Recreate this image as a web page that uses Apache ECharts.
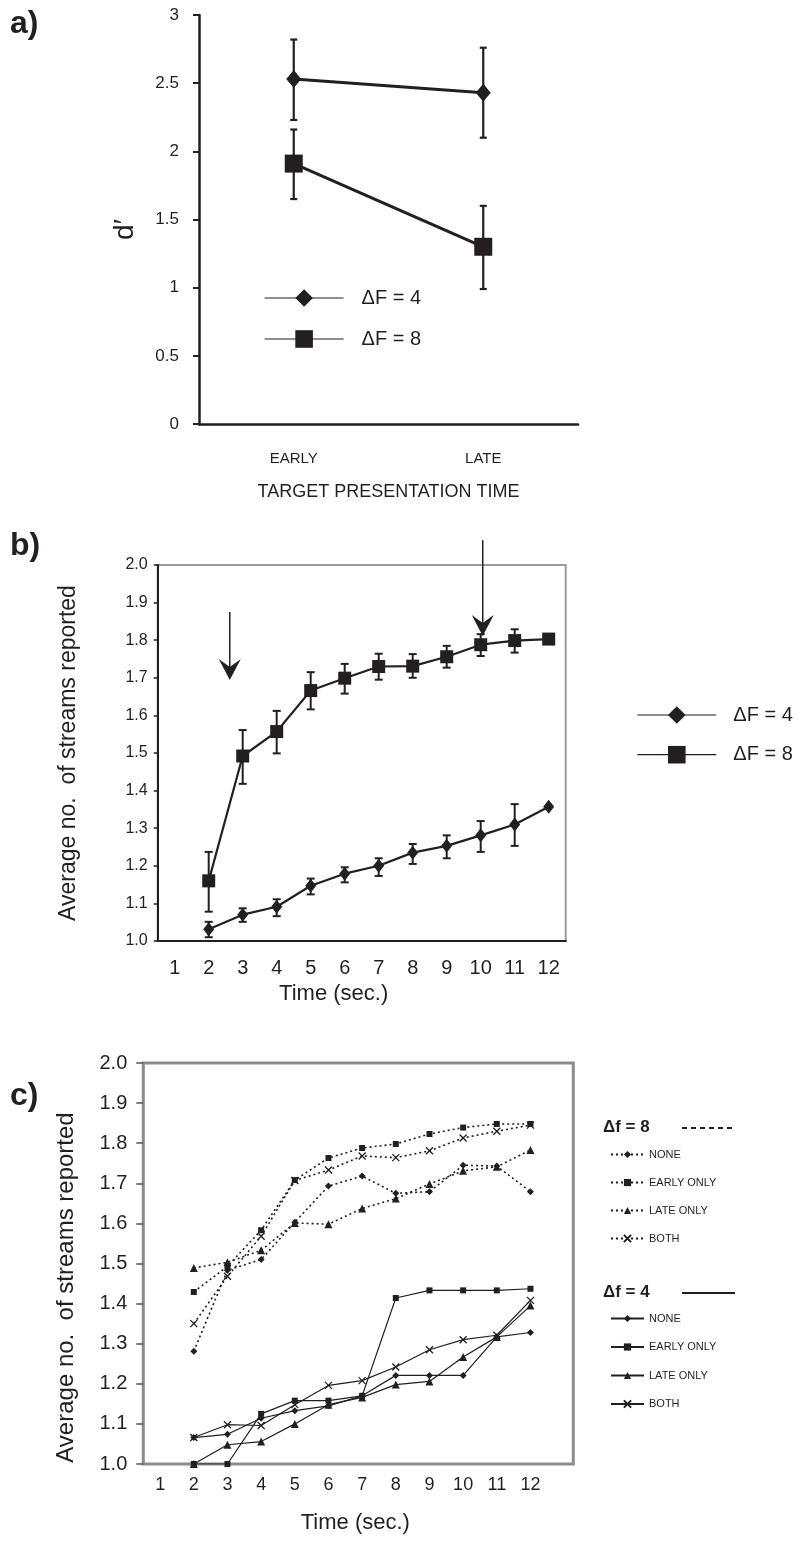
<!DOCTYPE html>
<html>
<head>
<meta charset="utf-8">
<script src="https://cdn.jsdelivr.net/npm/echarts@6/dist/echarts.min.js"></script>
<style>
  html, body { margin: 0; padding: 0; background: #fff; }
  #chart { width: 809px; height: 1543px; }
</style>
</head>
<body>
<div id="chart"></div>
<script>
// panel a: d' by target presentation time
const aCats = ['EARLY', 'LATE'];
const aF4 = [2.53, 2.43];
const aF4Lo = [2.23, 2.10];
const aF4Hi = [2.82, 2.76];
const aF8 = [1.91, 1.30];
const aF8Lo = [1.65, 0.99];
const aF8Hi = [2.16, 1.60];

// panel b: average number of streams over time
const bCats = ['1', '2', '3', '4', '5', '6', '7', '8', '9', '10', '11', '12'];
const bF8 = [null, 1.160, 1.492, 1.557, 1.666, 1.699, 1.730, 1.731, 1.756, 1.788, 1.799, 1.803];
const bF8Lo = [null, 1.078, 1.418, 1.499, 1.616, 1.658, 1.695, 1.700, 1.727, 1.758, 1.767, null];
const bF8Hi = [null, 1.237, 1.561, 1.612, 1.715, 1.737, 1.764, 1.763, 1.785, 1.816, 1.829, null];
const bF4 = [null, 1.031, 1.070, 1.091, 1.147, 1.179, 1.200, 1.235, 1.253, 1.281, 1.310, 1.357];
const bF4Lo = [null, 1.010, 1.051, 1.066, 1.124, 1.156, 1.173, 1.205, 1.220, 1.237, 1.253, null];
const bF4Hi = [null, 1.051, 1.087, 1.111, 1.166, 1.196, 1.220, 1.258, 1.281, 1.319, 1.364, null];
// arrows (x in category units, from / to in y units)
const arrowX = [2.62, 10.06];
const arrowFrom = [1.875, 2.066];
const arrowTo = [1.694, 1.811];

// panel c: by condition
const cCats = bCats;
const cF8None = [null, 1.281, 1.483, 1.510, 1.603, 1.693, 1.718, 1.675, 1.679, 1.745, 1.743, 1.679];
const cF8Early = [null, 1.429, 1.493, 1.583, 1.708, 1.763, 1.788, 1.798, 1.823, 1.839, 1.848, 1.848];
const cF8Late = [null, 1.489, 1.503, 1.533, 1.601, 1.598, 1.637, 1.662, 1.698, 1.731, 1.741, 1.783];
const cF8Both = [null, 1.350, 1.468, 1.568, 1.707, 1.733, 1.768, 1.764, 1.781, 1.813, 1.830, 1.845];
const cF4None = [null, 1.066, 1.074, 1.114, 1.133, 1.145, 1.170, 1.221, 1.221, 1.221, 1.317, 1.328];
const cF4Early = [null, 1.000, 1.000, 1.125, 1.158, 1.158, 1.170, 1.414, 1.433, 1.433, 1.433, 1.437];
const cF4Late = [null, 1.000, 1.048, 1.056, 1.100, 1.148, 1.166, 1.198, 1.206, 1.267, 1.317, 1.395];
const cF4Both = [null, 1.066, 1.098, 1.096, 1.148, 1.196, 1.208, 1.242, 1.285, 1.310, 1.321, 1.408];

const FONT = "'Liberation Sans', Arial, sans-serif";
const INK = '#231f20';
const CROSS = 'path://M0,0L10,10M10,0L0,10';

const chart = echarts.init(document.getElementById('chart'));

function errData(lo, hi) {
  return lo.map((l, i) => (l == null ? null : [i, l, hi[i]])).filter(Boolean);
}

function errorBars(cap, width) {
  return function (params, api) {
    const x = api.value(0);
    const top = api.coord([x, api.value(2)]);
    const bot = api.coord([x, api.value(1)]);
    const st = { stroke: INK, lineWidth: width };
    return {
      type: 'group',
      children: [
        { type: 'line', shape: { x1: top[0], y1: top[1], x2: bot[0], y2: bot[1] }, style: st },
        { type: 'line', shape: { x1: top[0] - cap, y1: top[1], x2: top[0] + cap, y2: top[1] }, style: st },
        { type: 'line', shape: { x1: bot[0] - cap, y1: bot[1], x2: bot[0] + cap, y2: bot[1] }, style: st }
      ]
    };
  };
}

// downward arrow with a notched head, tip at the "to" value
function arrowItem(params, api) {
  const start = api.coord([api.value(0), api.value(1)]);
  const tip = api.coord([api.value(0), api.value(2)]);
  const x = tip[0], y = tip[1];
  return {
    type: 'group',
    children: [
      { type: 'line', shape: { x1: start[0], y1: start[1], x2: x, y2: y - 10 }, style: { stroke: INK, lineWidth: 1.5 } },
      {
        type: 'polygon',
        shape: { points: [[x, y], [x - 11, y - 21], [x, y - 13], [x + 11, y - 21]] },
        style: { fill: INK }
      }
    ]
  };
}

const stripName = n => n.replace(/^.*\|/, '');

function cLine(name, data, symbol, size, dotted) {
  const s = {
    name: name, type: 'line', xAxisIndex: 3, yAxisIndex: 2,
    data: data, symbol: symbol, symbolSize: size, connectNulls: false,
    lineStyle: { color: INK, width: dotted ? 1.6 : 1.2, type: dotted ? [2, 3] : 'solid' },
    itemStyle: { color: INK }
  };
  if (symbol === CROSS) {
    s.itemStyle = { color: INK, borderColor: INK, borderWidth: 1.3 };
  }
  return s;
}

const option = {
  animation: false,
  textStyle: { fontFamily: FONT, color: INK },
  grid: [
    { left: 199, top: 15, width: 379, height: 409 },
    { left: 157.7, top: 565, width: 408, height: 376, show: true, borderColor: '#9a9a9a', borderWidth: 2 },
    { left: 143.3, top: 1063, width: 404, height: 401 },
    { left: 143.3, top: 1063, width: 430, height: 401, show: true, borderColor: '#8c8c8c', borderWidth: 3 }
  ],
  xAxis: [
    {
      gridIndex: 0, type: 'category', data: aCats, boundaryGap: true,
      axisLine: { lineStyle: { color: INK, width: 2.5 } },
      axisTick: { length: 6, lineStyle: { color: INK, width: 2 } },
      axisLabel: { fontSize: 15, color: INK, margin: 27, fontFamily: FONT },
      name: 'TARGET PRESENTATION TIME', nameLocation: 'middle', nameGap: 59,
      nameTextStyle: { fontSize: 18, color: INK, fontFamily: FONT }
    },
    {
      gridIndex: 1, type: 'category', data: bCats, boundaryGap: true, z: 3,
      axisLine: { lineStyle: { color: INK, width: 2 } },
      axisTick: { length: 6, lineStyle: { color: INK, width: 2 } },
      axisLabel: { fontSize: 20, color: INK, margin: 17, fontFamily: FONT },
      name: 'Time (sec.)', nameLocation: 'middle', nameGap: 42,
      nameTextStyle: { fontSize: 22, color: INK, fontFamily: FONT, padding: [0, 56, 0, 0] }
    },
    { gridIndex: 1, type: 'value', min: 0.5, max: 12.5, show: false },
    {
      gridIndex: 2, type: 'category', data: cCats, boundaryGap: true,
      axisLine: { show: false },
      axisTick: { length: 5, lineStyle: { color: '#555', width: 1.5 } },
      axisLabel: { fontSize: 18, color: INK, margin: 12, fontFamily: FONT },
      name: 'Time (sec.)', nameLocation: 'middle', nameGap: 48,
      nameTextStyle: { fontSize: 22, color: INK, fontFamily: FONT, padding: [0, 0, 0, 20] }
    },
    { gridIndex: 3, type: 'value', show: false }
  ],
  yAxis: [
    {
      gridIndex: 0, type: 'value', min: 0, max: 3, interval: 0.5,
      splitLine: { show: false },
      axisLine: { show: true, lineStyle: { color: INK, width: 2.5 } },
      axisTick: { show: true, length: 6, lineStyle: { color: INK, width: 2 } },
      axisLabel: { fontSize: 17, color: INK, margin: 20, fontFamily: FONT },
      name: 'd\u2032', nameLocation: 'middle', nameGap: 60,
      nameTextStyle: { fontSize: 28, color: INK, fontFamily: FONT, padding: [0, 20, 0, 0] }
    },
    {
      gridIndex: 1, type: 'value', min: 1, max: 2, interval: 0.1, z: 3,
      splitLine: { show: false },
      axisLine: { show: true, lineStyle: { color: INK, width: 2 } },
      axisTick: { show: true, length: 4, lineStyle: { color: INK, width: 1.5 } },
      axisLabel: { fontSize: 16, color: INK, margin: 10, fontFamily: FONT, formatter: v => v.toFixed(1) },
      name: 'Average no.  of streams reported', nameLocation: 'middle', nameGap: 78,
      nameTextStyle: { fontSize: 23, color: INK, fontFamily: FONT }
    },
    {
      gridIndex: 2, type: 'value', min: 1, max: 2, interval: 0.1,
      splitLine: { show: false },
      axisLine: { show: false },
      axisTick: { show: true, length: 7, lineStyle: { color: '#555', width: 1.5 } },
      axisLabel: { fontSize: 20, color: INK, margin: 16, fontFamily: FONT, formatter: v => v.toFixed(1) },
      name: 'Average no.  of streams reported', nameLocation: 'middle', nameGap: 65,
      nameTextStyle: { fontSize: 24, color: INK, fontFamily: FONT, padding: [0, 48, 0, 0] }
    },
    { gridIndex: 3, type: 'value', show: false }
  ],
  legend: [
    {
      data: ['a|\u0394F = 4', 'a|\u0394F = 8'], formatter: stripName,
      left: 264, top: 288, orient: 'vertical', padding: 0,
      itemWidth: 79, itemHeight: 22, itemGap: 21, selectedMode: false,
      lineStyle: { width: 1.2 },
      textStyle: { fontSize: 20, color: INK, fontFamily: FONT, padding: [0, 0, 0, 13] }
    },
    {
      data: ['b|\u0394F = 4', 'b|\u0394F = 8'], formatter: stripName,
      left: 636.7, top: 705, orient: 'vertical', padding: 0,
      itemWidth: 79, itemHeight: 22, itemGap: 19.7, selectedMode: false,
      lineStyle: { width: 1.2 },
      textStyle: { fontSize: 20, color: INK, fontFamily: FONT, padding: [0, 0, 0, 12] }
    },
    {
      data: ['8|NONE', '8|EARLY ONLY', '8|LATE ONLY', '8|BOTH'], formatter: stripName,
      left: 610, top: 1149, orient: 'vertical', padding: 0,
      itemWidth: 33, itemHeight: 9, itemGap: 17, selectedMode: false,
      textStyle: { fontSize: 11, color: INK, fontFamily: FONT }
    },
    {
      data: ['4|NONE', '4|EARLY ONLY', '4|LATE ONLY', '4|BOTH'], formatter: stripName,
      left: 610, top: 1313, orient: 'vertical', padding: 0,
      itemWidth: 33, itemHeight: 9, itemGap: 17.5, selectedMode: false,
      textStyle: { fontSize: 11, color: INK, fontFamily: FONT }
    }
  ],
  graphic: [
    { type: 'text', left: 10, top: 8, style: { text: 'a)', font: 'bold 32px ' + FONT, fill: INK } },
    { type: 'text', left: 10, top: 530, style: { text: 'b)', font: 'bold 32px ' + FONT, fill: INK } },
    { type: 'text', left: 10, top: 1080, style: { text: 'c)', font: 'bold 32px ' + FONT, fill: INK } },
    { type: 'text', left: 603, top: 1119, style: { text: '\u0394f = 8', font: 'bold 17px ' + FONT, fill: INK } },
    { type: 'line', shape: { x1: 682, y1: 1128, x2: 735, y2: 1128 }, style: { stroke: INK, lineWidth: 2, lineDash: [5, 4] } },
    { type: 'text', left: 603, top: 1284, style: { text: '\u0394f = 4', font: 'bold 17px ' + FONT, fill: INK } },
    { type: 'line', shape: { x1: 682, y1: 1293, x2: 735, y2: 1293 }, style: { stroke: INK, lineWidth: 2 } }
  ],
  series: [
    // panel a
    {
      type: 'custom', xAxisIndex: 0, yAxisIndex: 0, renderItem: errorBars(3.5, 2.2),
      data: errData(aF4Lo, aF4Hi), encode: { x: 0, y: [1, 2] }, z: 1
    },
    {
      type: 'custom', xAxisIndex: 0, yAxisIndex: 0, renderItem: errorBars(3.5, 2.2),
      data: errData(aF8Lo, aF8Hi), encode: { x: 0, y: [1, 2] }, z: 1
    },
    {
      name: 'a|\u0394F = 4', type: 'line', xAxisIndex: 0, yAxisIndex: 0, data: aF4,
      symbol: 'diamond', symbolSize: [15, 18], z: 3,
      lineStyle: { color: INK, width: 3 }, itemStyle: { color: INK }
    },
    {
      name: 'a|\u0394F = 8', type: 'line', xAxisIndex: 0, yAxisIndex: 0, data: aF8,
      symbol: 'rect', symbolSize: 18, z: 3,
      lineStyle: { color: INK, width: 3 }, itemStyle: { color: INK }
    },
    // panel b
    {
      type: 'custom', xAxisIndex: 1, yAxisIndex: 1, renderItem: errorBars(4, 2),
      data: errData(bF8Lo, bF8Hi), encode: { x: 0, y: [1, 2] }, z: 1
    },
    {
      type: 'custom', xAxisIndex: 1, yAxisIndex: 1, renderItem: errorBars(4, 2),
      data: errData(bF4Lo, bF4Hi), encode: { x: 0, y: [1, 2] }, z: 1
    },
    {
      name: 'b|\u0394F = 4', type: 'line', xAxisIndex: 1, yAxisIndex: 1, data: bF4,
      symbol: 'diamond', symbolSize: [11, 14], z: 3,
      lineStyle: { color: INK, width: 2.2 }, itemStyle: { color: INK }
    },
    {
      name: 'b|\u0394F = 8', type: 'line', xAxisIndex: 1, yAxisIndex: 1, data: bF8,
      symbol: 'rect', symbolSize: 13, z: 3,
      lineStyle: { color: INK, width: 2.2 }, itemStyle: { color: INK }
    },
    {
      type: 'custom', xAxisIndex: 2, yAxisIndex: 1, renderItem: arrowItem, clip: false, z: 4,
      data: arrowX.map((x, i) => [x, arrowFrom[i], arrowTo[i]]), encode: { x: 0, y: [1, 2] }
    },
    // panel c
    cLine('8|NONE', cF8None, 'diamond', 7, true),
    cLine('8|EARLY ONLY', cF8Early, 'rect', 6, true),
    cLine('8|LATE ONLY', cF8Late, 'triangle', 8, true),
    cLine('8|BOTH', cF8Both, CROSS, 7, true),
    cLine('4|NONE', cF4None, 'diamond', 7, false),
    cLine('4|EARLY ONLY', cF4Early, 'rect', 6, false),
    cLine('4|LATE ONLY', cF4Late, 'triangle', 8, false),
    cLine('4|BOTH', cF4Both, CROSS, 7, false)
  ]
};

chart.setOption(option);
</script>
</body>
</html>
